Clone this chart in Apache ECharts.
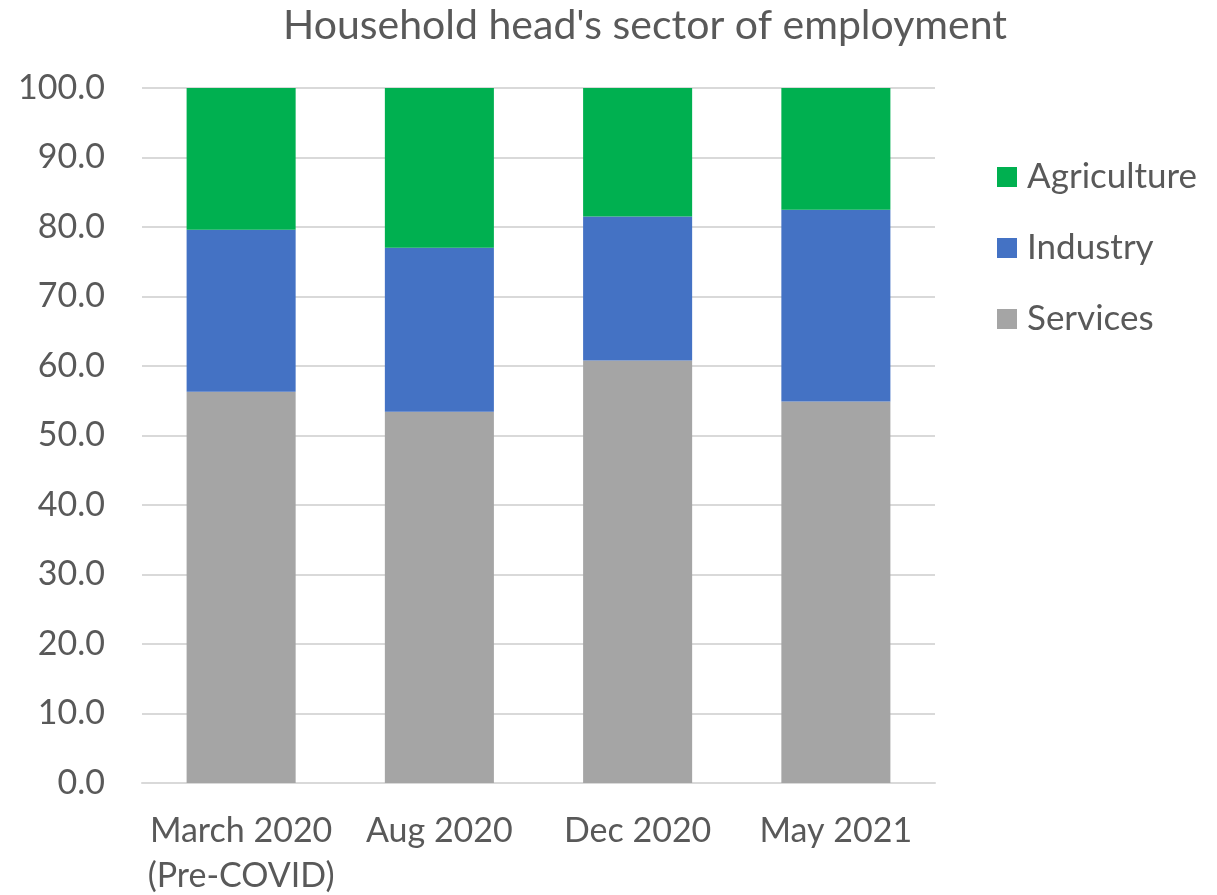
<!DOCTYPE html>
<html>
<head>
<meta charset="utf-8">
<script src="https://cdn.jsdelivr.net/npm/echarts@6/dist/echarts.min.js"></script>
<style>
  html, body { margin: 0; padding: 0; background: #fff; }
  #chart { width: 1217px; height: 895px; }
</style>
</head>
<body>
<div id="chart"></div>
<script>
// Survey rounds
const categories = ['March 2020\n(Pre-COVID)', 'Aug 2020', 'Dec 2020', 'May 2021'];
// Share of household heads by sector (%)
const services = [56.3, 53.4, 60.8, 54.9];
const industry = [23.3, 23.6, 20.7, 27.6];
const agriculture = [20.4, 23.0, 18.5, 17.5];

const FONT = 'Lato, "Open Sans", sans-serif';
const TEXT = '#595959';

const chart = echarts.init(document.getElementById('chart'));
chart.setOption({
  animation: false,
  title: {
    text: "Household head's sector of employment",
    left: 640, top: 0, textAlign: 'center',
    textStyle: { fontFamily: FONT, fontSize: 41, fontWeight: 'normal', color: TEXT }
  },
  legend: {
    orient: 'vertical', left: 992, top: 154, itemGap: 35,
    itemWidth: 20, itemHeight: 20, icon: 'rect',
    data: ['Agriculture', 'Industry', 'Services'],
    textStyle: { fontFamily: FONT, fontSize: 35, lineHeight: 36, color: TEXT, padding: [0, 0, 0, 5] }
  },
  grid: { left: 142, right: 282, top: 88, bottom: 112, outerBoundsMode: 'none' },
  xAxis: {
    type: 'category', data: categories,
    axisLine: { lineStyle: { color: '#d9d9d9', width: 2 } },
    axisTick: { show: false },
    axisLabel: { interval: 0, fontFamily: FONT, fontSize: 34, color: TEXT, margin: 26, lineHeight: 45 }
  },
  yAxis: {
    type: 'value', min: 0, max: 100, interval: 10,
    axisLine: { show: false }, axisTick: { show: false },
    axisLabel: { fontFamily: FONT, fontSize: 34, color: TEXT, margin: 37,
      formatter: v => v.toFixed(1) },
    splitLine: { lineStyle: { color: '#d9d9d9', width: 2 } }
  },
  series: [
    { name: 'Services', type: 'bar', stack: 's', data: services, barWidth: '55%',
      itemStyle: { color: '#a5a5a5' } },
    { name: 'Industry', type: 'bar', stack: 's', data: industry,
      itemStyle: { color: '#4472c4' } },
    { name: 'Agriculture', type: 'bar', stack: 's', data: agriculture,
      itemStyle: { color: '#00b050' } }
  ]
});
</script>
</body>
</html>
